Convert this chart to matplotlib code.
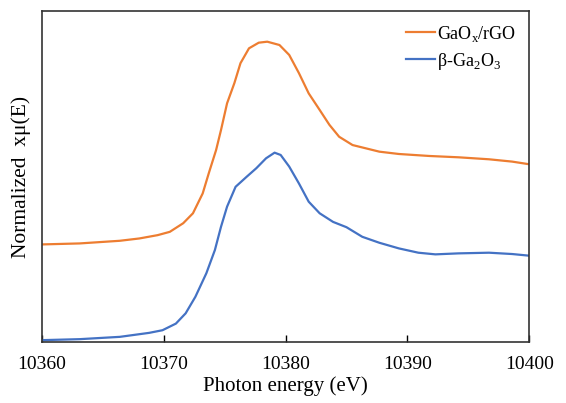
import matplotlib
matplotlib.use("Agg")
import matplotlib.pyplot as plt

plt.rcParams['font.family'] = ['Liberation Serif', 'DejaVu Serif']
plt.rcParams['mathtext.fontset'] = 'custom'
plt.rcParams['mathtext.rm'] = 'Liberation Serif'

# GaOx/rGO spectrum
energy_gaox = [10360, 10363.1, 10366.4, 10368.0, 10369.5, 10370.5, 10371.6, 10372.4,
               10373.2, 10373.7, 10374.3, 10374.7, 10375.2, 10375.8, 10376.3, 10377.0,
               10377.8, 10378.5, 10379.5, 10380.3, 10381.1, 10381.9, 10382.8, 10383.6,
               10384.4, 10385.5, 10386.6, 10387.7, 10389.3, 10391.8, 10394.2, 10396.7,
               10398.6, 10400]
mu_gaox = [0.295, 0.298, 0.306, 0.313, 0.323, 0.333, 0.359, 0.389,
           0.449, 0.510, 0.580, 0.640, 0.721, 0.782, 0.842, 0.887,
           0.904, 0.907, 0.897, 0.867, 0.812, 0.751, 0.701, 0.656,
           0.620, 0.595, 0.585, 0.575, 0.568, 0.562, 0.558, 0.552,
           0.545, 0.537]

# beta-Ga2O3 reference
energy_ga2o3 = [10360, 10363.1, 10366.4, 10368.0, 10368.8, 10369.9, 10371.0, 10371.8,
                10372.6, 10373.5, 10374.2, 10374.7, 10375.2, 10375.9, 10376.8, 10377.6,
                10378.4, 10379.1, 10379.6, 10380.3, 10381.1, 10381.9, 10382.8, 10383.9,
                10385.0, 10386.3, 10387.7, 10389.3, 10390.9, 10392.3, 10394.2, 10396.7,
                10398.6, 10400]
mu_ga2o3 = [0.006, 0.009, 0.016, 0.024, 0.028, 0.036, 0.056, 0.087,
            0.137, 0.208, 0.278, 0.348, 0.409, 0.469, 0.499, 0.525,
            0.555, 0.572, 0.565, 0.530, 0.479, 0.424, 0.389, 0.363,
            0.347, 0.318, 0.300, 0.283, 0.270, 0.265, 0.268, 0.270,
            0.266, 0.261]

x_ticks = [10360, 10370, 10380, 10390, 10400]

fig = plt.figure(figsize=(5.66, 4.03), dpi=100)
ax = fig.add_axes([0.074, 0.151, 0.861, 0.822])

ax.plot(energy_gaox, mu_gaox, color='#ED7D31', lw=1.6, label='GaO$_\\mathregular{x}$/rGO')
ax.plot(energy_ga2o3, mu_ga2o3, color='#4472C4', lw=1.6, label='β-Ga$_\\mathregular{2}$O$_\\mathregular{3}$')

ax.set_xlim(10360, 10400)
ax.set_ylim(0, 1.0)
ax.set_xticks(x_ticks)
ax.set_yticks([])
ax.tick_params(axis='x', direction='in', length=5, width=1, labelsize=14, pad=10)
for sp in ax.spines.values():
    sp.set_linewidth(1.2)
    sp.set_color('#333333')

ax.set_xlabel('Photon energy (eV)', fontsize=15, labelpad=2)
ax.set_ylabel('Normalized  xμ(E)', fontsize=15.5, labelpad=8)

ax.legend(loc='upper right', frameon=False, fontsize=13, handlelength=1.6,
          handletextpad=0.15, borderaxespad=0.3, labelspacing=0.4)

fig.savefig('out.png', dpi=100)
